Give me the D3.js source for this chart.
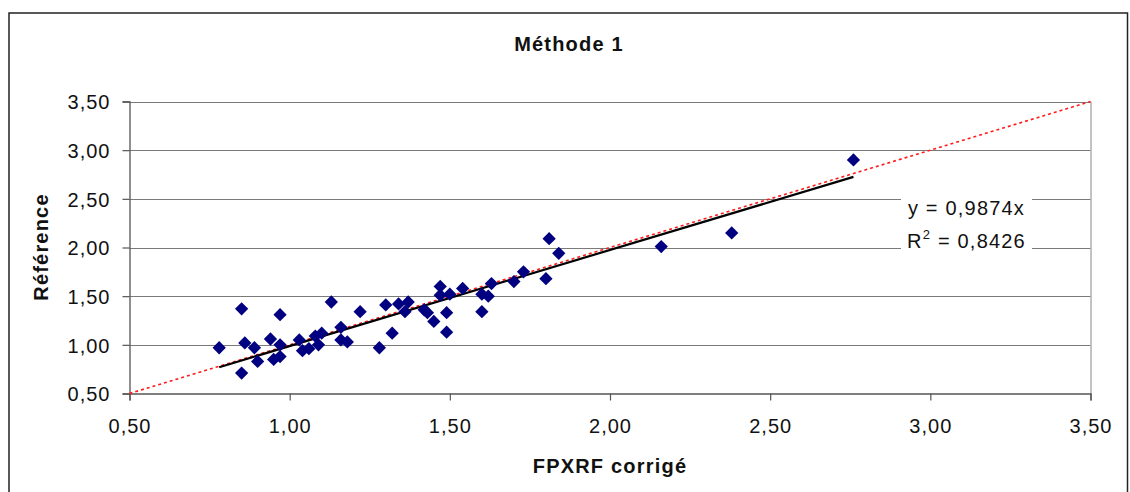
<!DOCTYPE html>
<html>
<head>
<meta charset="utf-8">
<script src="https://cdn.jsdelivr.net/npm/d3@7"></script>
<style>
  html, body { margin: 0; padding: 0; background: #fff; }
  svg { display: block; font-family: "Liberation Sans", Arial, Helvetica, sans-serif; }
</style>
</head>
<body>
<svg id="chart" width="1130" height="492"></svg>
<script>
// ---- Data ----
const fpxrf = [0.78, 0.85, 0.85, 0.86, 0.89, 0.90, 0.94, 0.95, 0.97, 0.97, 0.97,
  1.03, 1.04, 1.06, 1.08, 1.10, 1.09, 1.13, 1.16, 1.16, 1.18, 1.22, 1.28, 1.32,
  1.30, 1.34, 1.37, 1.36, 1.42, 1.43, 1.45, 1.49, 1.49, 1.47, 1.47, 1.50, 1.54,
  1.60, 1.62, 1.60, 1.63, 1.70, 1.73, 1.80, 1.81, 1.84, 2.16, 2.38, 2.76];
const reference = [0.97, 1.37, 0.71, 1.02, 0.97, 0.83, 1.06, 0.85, 1.31, 1.00, 0.88,
  1.05, 0.94, 0.96, 1.09, 1.12, 1.00, 1.44, 1.18, 1.05, 1.03, 1.34, 0.97, 1.12,
  1.41, 1.42, 1.44, 1.34, 1.36, 1.33, 1.24, 1.33, 1.13, 1.60, 1.51, 1.52, 1.58,
  1.52, 1.50, 1.34, 1.63, 1.65, 1.75, 1.68, 2.09, 1.94, 2.01, 2.15, 2.90];
const slope = 0.9874;            // trend line y = 0,9874x
const equationText = "y = 0,9874x";
const r2Value = "0,8426";
const identityRange = [0.5, 3.5]; // y = x reference line
const tickValues = [0.5, 1.0, 1.5, 2.0, 2.5, 3.0, 3.5];
const title = "Méthode 1";
const xTitle = "FPXRF corrigé";
const yTitle = "Référence";

// ---- Layout ----
const svg = d3.select("#chart");
const pLeft = 129.5, pRight = 1090.5, pTop = 101.5, pBottom = 393.5;
const x = d3.scaleLinear().domain([0.5, 3.5]).range([pLeft, pRight]);
const y = d3.scaleLinear().domain([0.5, 3.5]).range([pBottom, pTop]);
const fmt = d3.formatLocale({decimal: ",", thousands: " ", grouping: [3], currency: ["", ""]}).format(".2f");

// outer frame
svg.append("rect").attr("x", 9).attr("y", 13).attr("width", 1118.5).attr("height", 490)
  .attr("fill", "#fff").attr("stroke", "#222").attr("stroke-width", 1.5);

// gridlines
svg.append("g").selectAll("line").data(tickValues.slice(1)).join("line")
  .attr("x1", pLeft).attr("x2", pRight)
  .attr("y1", d => Math.round(y(d)) + 0.5).attr("y2", d => Math.round(y(d)) + 0.5)
  .attr("stroke", "#7a7a7a").attr("stroke-width", 1.2);
// right plot border
svg.append("line").attr("x1", pRight + 0.5).attr("x2", pRight + 0.5).attr("y1", pTop).attr("y2", pBottom)
  .attr("stroke", "#9a9a9a").attr("stroke-width", 1.2);

// axes
const yAxis = svg.append("g").attr("transform", `translate(${pLeft},0)`)
  .call(d3.axisLeft(y).tickValues(tickValues).tickFormat(fmt).tickSize(7).tickPadding(12));
const xAxis = svg.append("g").attr("transform", `translate(0,${pBottom})`)
  .call(d3.axisBottom(x).tickValues(tickValues).tickFormat(fmt).tickSize(7).tickPadding(18));
[xAxis, yAxis].forEach(g => {
  g.select(".domain").attr("stroke", "#555").attr("stroke-width", 1.3);
  g.selectAll(".tick line").attr("stroke", "#555").attr("stroke-width", 1.2);
  g.selectAll(".tick text").attr("fill", "#111").style("font-size", "20px")
    .style("letter-spacing", "1px").style("font-family", "'Liberation Sans', Arial, sans-serif");
});
yAxis.selectAll(".tick text").attr("dy", "0.36em");

// identity line y = x (red dotted)
svg.append("line")
  .attr("x1", x(identityRange[0])).attr("y1", y(identityRange[0]))
  .attr("x2", x(identityRange[1])).attr("y2", y(identityRange[1]))
  .attr("stroke", "#ff1a1a").attr("stroke-width", 1.6).attr("stroke-dasharray", "3,3");

// trend line y = slope * x over the data range
const xMin = d3.min(fpxrf), xMax = d3.max(fpxrf);
svg.append("line")
  .attr("x1", x(xMin)).attr("y1", y(slope * xMin))
  .attr("x2", x(xMax)).attr("y2", y(slope * xMax))
  .attr("stroke", "#000").attr("stroke-width", 2.2);

// points (diamonds)
const diamond = d3.symbol().type(d3.symbolSquare).size(88);
svg.append("g").selectAll("path").data(fpxrf.map((v, i) => [v, reference[i]])).join("path")
  .attr("d", diamond)
  .attr("transform", d => `translate(${x(d[0])},${y(d[1])}) rotate(45)`)
  .attr("fill", "#000080");

// equation label with white background
const lab = svg.append("g");
lab.append("rect").attr("x", 901).attr("y", 192).attr("width", 131).attr("height", 62).attr("fill", "#fff");
lab.append("text").attr("x", 966.5).attr("y", 215).attr("text-anchor", "middle")
  .style("font-size", "20px").style("letter-spacing", "1.2px").attr("fill", "#111").text(equationText);
const r2 = lab.append("text").attr("x", 966.5).attr("y", 248).attr("text-anchor", "middle")
  .style("font-size", "20px").style("letter-spacing", "1.2px").attr("fill", "#111");
r2.append("tspan").text("R");
r2.append("tspan").attr("dy", -9).style("font-size", "13px").text("2");
r2.append("tspan").attr("dy", 9).text(" = " + r2Value);

// titles
svg.append("text").attr("x", 569).attr("y", 50.5).attr("text-anchor", "middle")
  .style("font-size", "20px").style("font-weight", "bold").style("letter-spacing", "1.2px")
  .attr("fill", "#111").text(title);
svg.append("text").attr("x", 610).attr("y", 473).attr("text-anchor", "middle")
  .style("font-size", "20px").style("font-weight", "bold").style("letter-spacing", "1.2px")
  .attr("fill", "#111").text(xTitle);
svg.append("text").attr("transform", "translate(48,247) rotate(-90)").attr("text-anchor", "middle")
  .style("font-size", "20px").style("font-weight", "bold").style("letter-spacing", "1.2px")
  .attr("fill", "#111").text(yTitle);
</script>
</body>
</html>
